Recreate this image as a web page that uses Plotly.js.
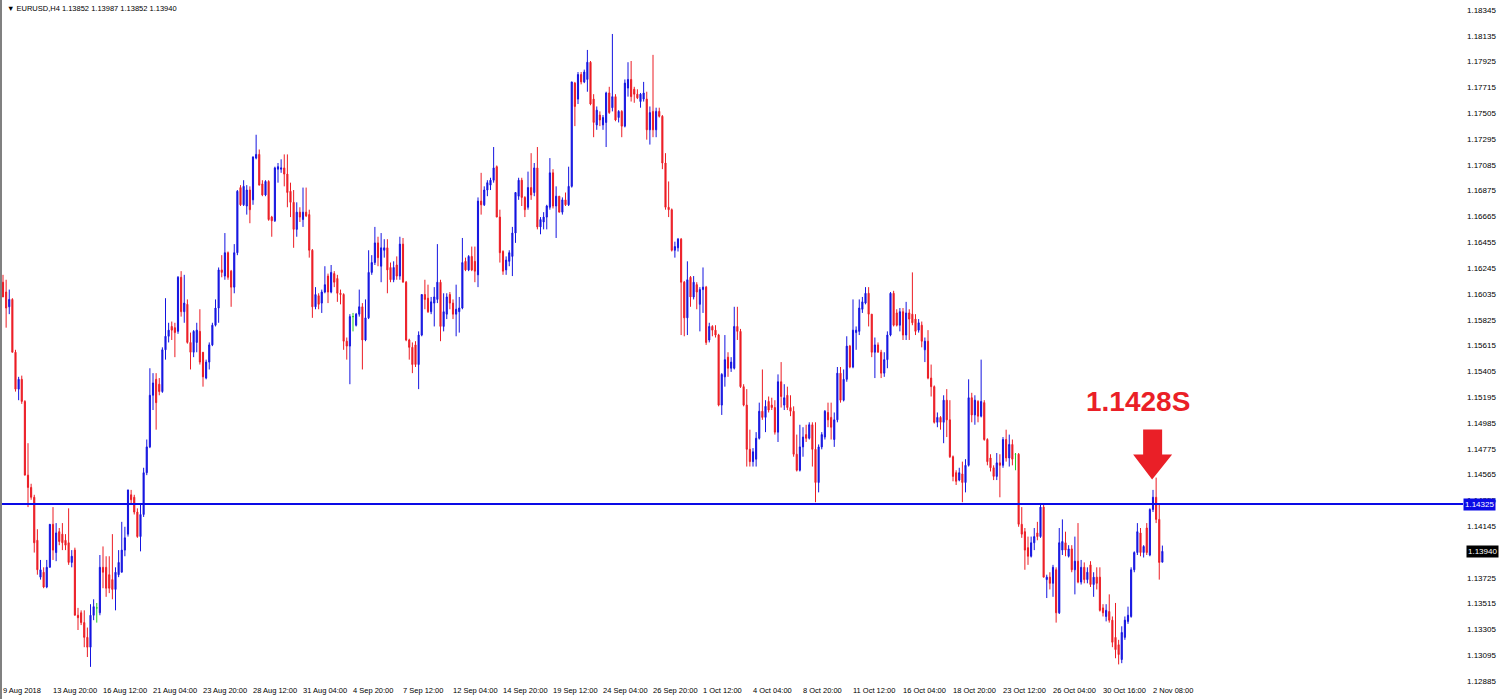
<!DOCTYPE html>
<html>
<head>
<meta charset="utf-8">
<script src="https://cdn.plot.ly/plotly-3.0.1.min.js"></script>
<style>
html,body{margin:0;padding:0;background:#ffffff;}
#chart{width:1500px;height:699px;}
</style>
</head>
<body>
<div id="chart"></div>
<script>
// ---- chart data (EURUSD, H4) ----
const symbol = 'EURUSD,H4';
const levelPrice = 1.14325;
const levelNote = '1.1428S';

const open = [
1.1613,1.1605,1.1593,1.1599,1.1556,1.1526,1.1534,1.1516,1.1456,1.1446,
1.1438,1.1403,1.1373,1.1377,1.1365,1.1381,1.1416,1.1393,1.1410,1.1408,
1.1403,1.1401,1.1385,1.1395,1.1342,1.1344,1.1336,1.1324,1.1316,1.1342,
1.1348,1.1344,1.1381,1.1381,1.1375,1.1371,1.1363,1.1375,1.1377,1.1395,
1.1408,1.1440,1.1438,1.1426,1.1406,1.1424,1.1458,1.1479,1.1521,1.1534,
1.1530,1.1524,1.1558,1.1569,1.1577,1.1576,1.1573,1.1617,1.1589,1.1595,
1.1564,1.1556,1.1564,1.1573,1.1556,1.1535,1.1548,1.1562,1.1578,1.1592,
1.1623,1.1618,1.1637,1.1622,1.1609,1.1637,1.1690,1.1676,1.1675,1.1688,
1.1680,1.1714,1.1717,1.1693,1.1684,1.1695,1.1666,1.1663,1.1705,1.1705,
1.1706,1.1701,1.1687,1.1678,1.1656,1.1670,1.1664,1.1670,1.1668,1.1639,
1.1593,1.1602,1.1596,1.1605,1.1618,1.1605,1.1620,1.1616,1.1604,1.1603,
1.1565,1.1561,1.1585,1.1578,1.1587,1.1593,1.1566,1.1584,1.1621,1.1629,
1.1645,1.1626,1.1639,1.1641,1.1625,1.1615,1.1627,1.1618,1.1644,1.1613,
1.1566,1.1560,1.1562,1.1546,1.1570,1.1603,1.1600,1.1589,1.1596,1.1599,
1.1613,1.1577,1.1587,1.1603,1.1596,1.1587,1.1589,1.1592,1.1630,1.1623,
1.1634,1.1630,1.1619,1.1679,1.1676,1.1688,1.1692,1.1696,1.1707,1.1666,
1.1638,1.1623,1.1630,1.1634,1.1653,1.1683,1.1696,1.1682,1.1674,1.1690,
1.1686,1.1706,1.1658,1.1662,1.1666,1.1674,1.1702,1.1675,1.1683,1.1670,
1.1680,1.1676,1.1691,1.1775,1.1762,1.1782,1.1776,1.1778,1.1792,1.1762,
1.1741,1.1749,1.1741,1.1743,1.1767,1.1755,1.1764,1.1747,1.1752,1.1740,
1.1771,1.1778,1.1770,1.1766,1.1760,1.1762,1.1762,1.1737,1.1752,1.1737,
1.1752,1.1748,1.1710,1.1674,1.1672,1.1639,1.1641,1.1648,1.1613,1.1584,
1.1617,1.1601,1.1611,1.1595,1.1607,1.1609,1.1566,1.1577,1.1574,1.1570,
1.1513,1.1536,1.1552,1.1543,1.1543,1.1577,1.1573,1.1528,1.1513,1.1477,
1.1467,1.1469,1.1486,1.1508,1.1503,1.1516,1.1513,1.1511,1.1491,1.1532,
1.1513,1.1521,1.1511,1.1508,1.1473,1.1460,1.1479,1.1489,1.1486,1.1497,
1.1477,1.1450,1.1479,1.1487,1.1507,1.1503,1.1485,1.1501,1.1539,1.1517,
1.1534,1.1561,1.1544,1.1572,1.1573,1.1591,1.1596,1.1604,1.1587,1.1556,
1.1562,1.1556,1.1539,1.1550,1.1570,1.1604,1.1588,1.1578,1.1589,1.1570,
1.1588,1.1587,1.1583,1.1574,1.1578,1.1558,1.1565,1.1535,1.1528,1.1499,
1.1503,1.1499,1.1517,1.1501,1.1471,1.1458,1.1452,1.1457,1.1450,1.1464,
1.1519,1.1505,1.1516,1.1504,1.1515,1.1485,1.1470,1.1462,1.1455,1.1466,
1.1464,1.1485,1.1470,1.1481,1.1473,1.1473,1.1416,1.1410,1.1397,1.1390,
1.1401,1.1409,1.1406,1.1430,1.1371,1.1373,1.1368,1.1379,1.1344,1.1395,
1.1401,1.1390,1.1396,1.1379,1.1386,1.1369,1.1381,1.1371,1.1383,1.1367,
1.1373,1.1373,1.1348,1.1341,1.1345,1.1338,1.1324,1.1318,1.1306,1.1324,
1.1337,1.1341,1.1379,1.1393,1.1409,1.1393,1.1413,1.1391,1.1428,1.1438,
1.1420,1.13852
];

const high = [
1.1619,1.1615,1.1607,1.1600,1.1558,1.1536,1.1537,1.1517,1.1482,1.1449,
1.1440,1.1412,1.1387,1.1381,1.1387,1.1416,1.1430,1.1417,1.1413,1.1417,
1.1408,1.1429,1.1395,1.1397,1.1348,1.1346,1.1346,1.1332,1.1351,1.1355,
1.1352,1.1391,1.1398,1.1390,1.1390,1.1408,1.1381,1.1395,1.1418,1.1414,
1.1444,1.1444,1.1440,1.1429,1.1432,1.1462,1.1485,1.1543,1.1539,1.1539,
1.1535,1.1560,1.1600,1.1580,1.1581,1.1580,1.1618,1.1622,1.1619,1.1599,
1.1572,1.1574,1.1580,1.1591,1.1556,1.1550,1.1564,1.1580,1.1599,1.1625,
1.1635,1.1653,1.1638,1.1623,1.1644,1.1688,1.1692,1.1696,1.1692,1.1691,
1.1715,1.1733,1.1721,1.1696,1.1696,1.1696,1.1667,1.1707,1.1710,1.1713,
1.1717,1.1717,1.1694,1.1688,1.1678,1.1674,1.1690,1.1690,1.1672,1.1640,
1.1609,1.1604,1.1607,1.1626,1.1620,1.1627,1.1622,1.1619,1.1607,1.1604,
1.1568,1.1587,1.1588,1.1588,1.1607,1.1596,1.1599,1.1639,1.1635,1.1658,
1.1650,1.1653,1.1648,1.1648,1.1629,1.1630,1.1634,1.1650,1.1649,1.1614,
1.1567,1.1564,1.1565,1.1573,1.1603,1.1615,1.1611,1.1601,1.1609,1.1644,
1.1615,1.1604,1.1604,1.1605,1.1599,1.1611,1.1601,1.1649,1.1633,1.1635,
1.1642,1.1642,1.1682,1.1702,1.1691,1.1696,1.1698,1.1723,1.1708,1.1672,
1.1639,1.1634,1.1639,1.1658,1.1686,1.1698,1.1698,1.1683,1.1703,1.1718,
1.1710,1.1723,1.1666,1.1670,1.1676,1.1714,1.1705,1.1691,1.1683,1.1682,
1.1686,1.1707,1.1776,1.1776,1.1784,1.1784,1.1786,1.1802,1.1793,1.1766,
1.1756,1.1752,1.1749,1.1768,1.1772,1.1815,1.1766,1.1753,1.1753,1.1778,
1.1792,1.1793,1.1772,1.1770,1.1767,1.1776,1.1768,1.1756,1.1798,1.1755,
1.1755,1.1749,1.1718,1.1695,1.1673,1.1646,1.1649,1.1649,1.1614,1.1630,
1.1618,1.1618,1.1613,1.1609,1.1625,1.1610,1.1580,1.1578,1.1578,1.1571,
1.1539,1.1570,1.1556,1.1552,1.1593,1.1593,1.1575,1.1530,1.1526,1.1493,
1.1478,1.1491,1.1515,1.1542,1.1517,1.1520,1.1519,1.1517,1.1538,1.1548,
1.1530,1.1528,1.1521,1.1512,1.1489,1.1497,1.1495,1.1497,1.1499,1.1499,
1.1499,1.1481,1.1491,1.1509,1.1515,1.1515,1.1507,1.1544,1.1544,1.1542,
1.1569,1.1562,1.1599,1.1577,1.1599,1.1601,1.1609,1.1609,1.1587,1.1568,
1.1564,1.1558,1.1556,1.1573,1.1605,1.1606,1.1591,1.1592,1.1592,1.1597,
1.1591,1.1621,1.1587,1.1583,1.1581,1.1568,1.1574,1.1546,1.1529,1.1507,
1.1504,1.1521,1.1526,1.1517,1.1472,1.1460,1.1462,1.1467,1.1469,1.1534,
1.1523,1.1521,1.1517,1.1550,1.1517,1.1486,1.1473,1.1464,1.1474,1.1473,
1.1487,1.1493,1.1489,1.1485,1.1474,1.1474,1.1430,1.1413,1.1406,1.1406,
1.1413,1.1418,1.1432,1.1432,1.1375,1.1377,1.1383,1.1381,1.1413,1.1420,
1.1410,1.1399,1.1399,1.1406,1.1417,1.1387,1.1385,1.1381,1.1386,1.1377,
1.1381,1.1381,1.1351,1.1351,1.1359,1.1341,1.1352,1.1322,1.1333,1.1341,
1.1349,1.1381,1.1394,1.1417,1.1413,1.1399,1.1417,1.1429,1.1444,1.1454,
1.1432,1.13987
];

const low = [
1.1601,1.1576,1.1587,1.1556,1.1524,1.1517,1.1514,1.1456,1.1430,1.1436,
1.1393,1.1375,1.1371,1.1364,1.1364,1.1381,1.1387,1.1386,1.1399,1.1395,
1.1395,1.1383,1.1381,1.1342,1.1330,1.1334,1.1316,1.1308,1.1300,1.1338,
1.1336,1.1342,1.1364,1.1357,1.1360,1.1355,1.1346,1.1373,1.1377,1.1390,
1.1406,1.1432,1.1424,1.1405,1.1394,1.1422,1.1456,1.1478,1.1509,1.1493,
1.1521,1.1523,1.1550,1.1564,1.1566,1.1552,1.1571,1.1585,1.1580,1.1563,
1.1542,1.1552,1.1556,1.1546,1.1528,1.1534,1.1542,1.1561,1.1577,1.1580,
1.1617,1.1615,1.1615,1.1593,1.1604,1.1635,1.1675,1.1675,1.1668,1.1661,
1.1676,1.1713,1.1692,1.1683,1.1683,1.1663,1.1650,1.1662,1.1694,1.1702,
1.1691,1.1674,1.1666,1.1641,1.1650,1.1662,1.1658,1.1666,1.1633,1.1584,
1.1591,1.1591,1.1588,1.1604,1.1596,1.1604,1.1609,1.1597,1.1595,1.1558,
1.1550,1.1530,1.1573,1.1577,1.1585,1.1542,1.1565,1.1583,1.1619,1.1627,
1.1626,1.1613,1.1633,1.1604,1.1613,1.1613,1.1615,1.1615,1.1613,1.1565,
1.1550,1.1539,1.1544,1.1526,1.1569,1.1591,1.1588,1.1587,1.1577,1.1596,
1.1565,1.1573,1.1583,1.1591,1.1583,1.1569,1.1572,1.1591,1.1622,1.1622,
1.1622,1.1613,1.1609,1.1668,1.1675,1.1683,1.1688,1.1694,1.1666,1.1629,
1.1619,1.1619,1.1626,1.1618,1.1645,1.1680,1.1675,1.1666,1.1672,1.1680,
1.1683,1.1656,1.1652,1.1656,1.1656,1.1672,1.1673,1.1649,1.1670,1.1668,
1.1675,1.1675,1.1690,1.1740,1.1758,1.1774,1.1775,1.1768,1.1757,1.1731,
1.1737,1.1740,1.1737,1.1723,1.1750,1.1752,1.1744,1.1743,1.1731,1.1739,
1.1764,1.1760,1.1759,1.1762,1.1755,1.1760,1.1729,1.1725,1.1731,1.1731,
1.1747,1.1705,1.1672,1.1666,1.1638,1.1633,1.1638,1.1570,1.1569,1.1570,
1.1593,1.1599,1.1591,1.1573,1.1588,1.1562,1.1564,1.1569,1.1568,1.1512,
1.1505,1.1528,1.1536,1.1540,1.1542,1.1566,1.1527,1.1512,1.1463,1.1463,
1.1463,1.1463,1.1485,1.1501,1.1491,1.1507,1.1509,1.1489,1.1483,1.1511,
1.1509,1.1509,1.1504,1.1471,1.1459,1.1459,1.1471,1.1483,1.1485,1.1463,
1.1434,1.1442,1.1477,1.1485,1.1495,1.1485,1.1479,1.1499,1.1515,1.1516,
1.1532,1.1543,1.1543,1.1558,1.1570,1.1588,1.1595,1.1577,1.1552,1.1535,
1.1556,1.1535,1.1536,1.1543,1.1569,1.1577,1.1577,1.1573,1.1566,1.1566,
1.1566,1.1578,1.1570,1.1572,1.1560,1.1548,1.1534,1.1520,1.1498,1.1495,
1.1493,1.1482,1.1487,1.1470,1.1451,1.1448,1.1451,1.1434,1.1442,1.1463,
1.1499,1.1497,1.1499,1.1503,1.1484,1.1464,1.1459,1.1452,1.1452,1.1438,
1.1462,1.1467,1.1463,1.1464,1.1460,1.1414,1.1405,1.1379,1.1383,1.1389,
1.1395,1.1403,1.1405,1.1373,1.1356,1.1363,1.1357,1.1336,1.1343,1.1391,
1.1390,1.1389,1.1377,1.1359,1.1368,1.1367,1.1368,1.1368,1.1365,1.1357,
1.1363,1.1345,1.1341,1.1337,1.1336,1.1316,1.1307,1.1302,1.1303,1.1322,
1.1335,1.1340,1.1377,1.1391,1.1390,1.1389,1.1391,1.1390,1.1426,1.1417,
1.1371,1.13852
];

const close = [
1.1601,1.1592,1.1599,1.1556,1.1526,1.1534,1.1516,1.1456,1.1446,1.1438,
1.1401,1.1379,1.1379,1.1365,1.1381,1.1416,1.1395,1.1409,1.1402,1.1401,
1.1399,1.1385,1.1390,1.1342,1.1340,1.1336,1.1324,1.1316,1.1342,1.1349,
1.1348,1.1381,1.1377,1.1364,1.1364,1.1363,1.1377,1.1385,1.1395,1.1405,
1.1444,1.1436,1.1426,1.1406,1.1424,1.1458,1.1479,1.1521,1.1531,1.1515,
1.1524,1.1558,1.1569,1.1574,1.1574,1.1572,1.1617,1.1589,1.1596,1.1564,
1.1556,1.1573,1.1574,1.1548,1.1536,1.1548,1.1562,1.1578,1.1592,1.1623,
1.1621,1.1637,1.1617,1.1609,1.1637,1.1687,1.1676,1.1691,1.1688,1.1672,
1.1715,1.1717,1.1692,1.1684,1.1695,1.1664,1.1663,1.1706,1.1707,1.1706,
1.1701,1.1686,1.1678,1.1656,1.1670,1.1666,1.1670,1.1667,1.1639,1.1593,
1.1603,1.1595,1.1605,1.1611,1.1605,1.1621,1.1613,1.1604,1.1603,1.1565,
1.1561,1.1585,1.1585,1.1587,1.1593,1.1566,1.1584,1.1621,1.1629,1.1645,
1.1633,1.1641,1.1641,1.1623,1.1615,1.1625,1.1618,1.1644,1.1613,1.1566,
1.1560,1.1546,1.1546,1.1570,1.1603,1.1599,1.1589,1.1597,1.1601,1.1613,
1.1577,1.1589,1.1601,1.1596,1.1587,1.1591,1.1592,1.1629,1.1623,1.1634,
1.1623,1.1622,1.1679,1.1676,1.1688,1.1694,1.1696,1.1706,1.1666,1.1637,
1.1622,1.1631,1.1637,1.1653,1.1686,1.1696,1.1682,1.1672,1.1690,1.1684,
1.1706,1.1658,1.1664,1.1666,1.1675,1.1702,1.1675,1.1683,1.1670,1.1680,
1.1676,1.1691,1.1776,1.1756,1.1782,1.1776,1.1784,1.1792,1.1758,1.1743,
1.1753,1.1745,1.1747,1.1767,1.1751,1.1764,1.1745,1.1752,1.1740,1.1775,
1.1778,1.1764,1.1766,1.1763,1.1766,1.1767,1.1737,1.1751,1.1737,1.1752,
1.1748,1.1710,1.1674,1.1672,1.1639,1.1642,1.1648,1.1613,1.1584,1.1615,
1.1601,1.1613,1.1605,1.1607,1.1609,1.1564,1.1577,1.1574,1.1570,1.1513,
1.1538,1.1550,1.1543,1.1548,1.1577,1.1573,1.1528,1.1513,1.1477,1.1467,
1.1475,1.1486,1.1508,1.1503,1.1512,1.1509,1.1511,1.1491,1.1532,1.1520,
1.1519,1.1511,1.1508,1.1473,1.1460,1.1479,1.1487,1.1486,1.1497,1.1477,
1.1450,1.1479,1.1489,1.1508,1.1501,1.1495,1.1501,1.1539,1.1517,1.1534,
1.1561,1.1544,1.1574,1.1574,1.1592,1.1597,1.1604,1.1587,1.1556,1.1562,
1.1556,1.1539,1.1550,1.1570,1.1604,1.1578,1.1578,1.1589,1.1570,1.1588,
1.1583,1.1580,1.1573,1.1580,1.1565,1.1565,1.1535,1.1528,1.1499,1.1503,
1.1499,1.1517,1.1501,1.1471,1.1455,1.1451,1.1458,1.1450,1.1464,1.1519,
1.1505,1.1517,1.1504,1.1516,1.1485,1.1467,1.1462,1.1455,1.1466,1.1464,
1.1485,1.1470,1.1481,1.1469,1.1473,1.1416,1.1408,1.1395,1.1390,1.1401,
1.1406,1.1406,1.1430,1.1373,1.1373,1.1368,1.1381,1.1344,1.1401,1.1402,
1.1395,1.1396,1.1379,1.1386,1.1369,1.1381,1.1371,1.1377,1.1367,1.1373,
1.1368,1.1346,1.1344,1.1346,1.1338,1.1320,1.1314,1.1310,1.1328,1.1338,
1.1342,1.1379,1.1393,1.1410,1.1393,1.1398,1.1393,1.1428,1.1438,1.1420,
1.1385,1.13940
];

// x-axis labels (every 16 bars)
const tickIdx = [0,16,32,48,64,80,96,112,128,144,160,176,192,208,224,240,256,272,288,304,320,336,352,368];
const tickText = ['9 Aug 2018','13 Aug 20:00','16 Aug 12:00','21 Aug 04:00','23 Aug 20:00','28 Aug 12:00',
  '31 Aug 04:00','4 Sep 20:00','7 Sep 12:00','12 Sep 04:00','14 Sep 20:00','19 Sep 12:00',
  '24 Sep 04:00','26 Sep 20:00','1 Oct 12:00','4 Oct 04:00','8 Oct 20:00','11 Oct 12:00',
  '16 Oct 04:00','18 Oct 20:00','23 Oct 12:00','26 Oct 04:00','30 Oct 16:00','2 Nov 08:00'];

// price scale labels
const yTicks = [1.18345,1.18135,1.17925,1.17715,1.17505,1.17295,1.17085,1.16875,1.16665,1.16455,
  1.16245,1.16035,1.15825,1.15615,1.15405,1.15195,1.14985,1.14775,1.14565,1.14355,
  1.14145,1.13935,1.13725,1.13515,1.13305,1.13095,1.12885];

// ---- build ----
const idx = open.map((_, i) => i);
const doji = idx.filter(i => open[i] === close[i]);
const body = idx.filter(i => open[i] !== close[i]);
const take = (arr, set) => set.map(i => arr[i]);

const BLUE = '#1414e0', RED = '#ec1c24', GREEN = '#22cc22';
const traces = [
  {
    type: 'candlestick',
    x: body, open: take(open, body), high: take(high, body), low: take(low, body), close: take(close, body),
    increasing: {line: {color: BLUE, width: 1}, fillcolor: BLUE},
    decreasing: {line: {color: RED, width: 1}, fillcolor: RED},
    whiskerwidth: 0, hoverinfo: 'skip', showlegend: false
  },
  {
    type: 'candlestick',
    x: doji, open: take(open, doji), high: take(high, doji), low: take(low, doji), close: take(close, doji),
    increasing: {line: {color: GREEN, width: 1}, fillcolor: GREEN},
    decreasing: {line: {color: GREEN, width: 1}, fillcolor: GREEN},
    whiskerwidth: 0, hoverinfo: 'skip', showlegend: false
  }
];

// peak of the last few bars (arrow target)
let peakIdx = open.length - 10;
for (let i = open.length - 10; i < open.length; i++) if (high[i] > high[peakIdx]) peakIdx = i;
const last = open.length - 1;

const fontFam = 'Liberation Sans, Arial, sans-serif';
const layout = {
  width: 1500, height: 699,
  margin: {l: 2, r: 37, t: 0, b: 16, pad: 0},
  paper_bgcolor: '#ffffff', plot_bgcolor: '#ffffff',
  showlegend: false, hovermode: false, dragmode: false,
  boxgap: 0.5,
  xaxis: {
    type: 'linear', range: [-0.32, 467.2],
    tickmode: 'array', tickvals: tickIdx, ticktext: tickText,
    ticklabelposition: 'outside right', tickangle: 0,
    showgrid: false, zeroline: false, showline: false, ticks: '',
    ticklabelstandoff: 1,
    tickfont: {family: fontFam, size: 7.5, color: '#000000'},
    rangeslider: {visible: false}, fixedrange: true
  },
  yaxis: {
    side: 'right', range: [1.128687, 1.184264],
    tickmode: 'array', tickvals: yTicks, ticktext: yTicks.map(v => v.toFixed(5)),
    showgrid: false, zeroline: false, showline: false, ticks: '',
    ticklabelstandoff: 3,
    tickfont: {family: fontFam, size: 8, color: '#000000'},
    fixedrange: true
  },
  shapes: [
    {type: 'rect', xref: 'paper', yref: 'paper', x0: -2/1461, x1: 0, y0: -0.03, y1: 1,
     fillcolor: '#808080', line: {width: 0}, layer: 'above'},
    {type: 'line', xref: 'paper', yref: 'y', x0: 0, x1: 1, y0: levelPrice, y1: levelPrice,
     line: {color: '#0a0ae6', width: 2}, layer: 'above'},
    {type: 'path', xref: 'x', yref: 'y', xsizemode: 'pixel', ysizemode: 'pixel',
     xanchor: peakIdx, yanchor: high[peakIdx],
     path: 'M -4,-2 L -23,23 L -13,23 L -13,48 L 6,48 L 6,23 L 16,23 Z',
     fillcolor: '#ea1f27', line: {width: 0}, layer: 'above'}
  ],
  annotations: [
    {xref: 'paper', yref: 'paper', x: 0, y: 1, xanchor: 'left', yanchor: 'top', xshift: 3, yshift: -2,
     showarrow: false,
     text: '\u25BC ' + symbol + ' ' + [open[last], high[last], low[last], close[last]].map(v => v.toFixed(5)).join(' '),
     font: {family: fontFam, size: 7.5, color: '#000000'}},
    {xref: 'x', yref: 'y', x: peakIdx, y: high[peakIdx], xshift: -18, yshift: 76,
     xanchor: 'center', yanchor: 'middle', showarrow: false, text: levelNote,
     font: {family: fontFam, size: 28, color: '#ea1f27', weight: 'bold'}},
    {xref: 'paper', yref: 'y', x: 1, y: levelPrice, xanchor: 'left', yanchor: 'middle', xshift: 0,
     showarrow: false, text: levelPrice.toFixed(5), bgcolor: '#0a0ae6', borderpad: 1,
     font: {family: fontFam, size: 8, color: '#ffffff'}},
    {xref: 'paper', yref: 'y', x: 1, y: close[last], xanchor: 'left', yanchor: 'middle', xshift: 3,
     showarrow: false, text: close[last].toFixed(5), bgcolor: '#000000', borderpad: 1,
     font: {family: fontFam, size: 8, color: '#ffffff'}}
  ]
};

Plotly.newPlot('chart', traces, layout, {staticPlot: true, displayModeBar: false});
</script>
</body>
</html>
